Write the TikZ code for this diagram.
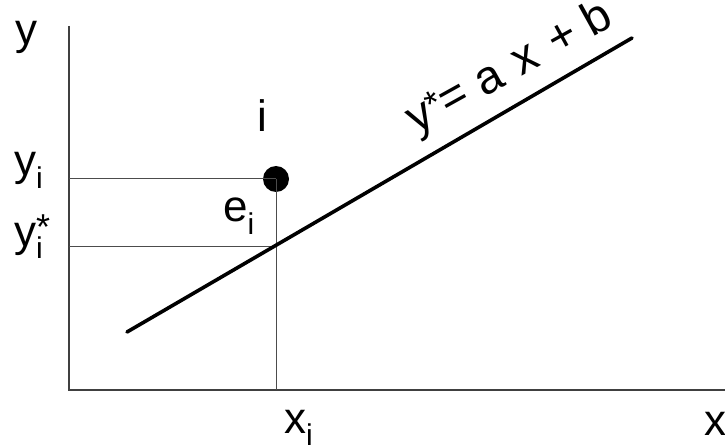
\documentclass[tikz,border=0pt]{standalone}
\usepackage{fontspec}
\setmainfont{Liberation Sans}
\newcommand{\subi}{\raisebox{-12pt}{\fontsize{30}{30}\selectfont i}}
\newcommand{\supstar}{\raisebox{7pt}{\fontsize{36}{36}\selectfont *}}
\tikzset{
  lbl/.style={font=\fontsize{44}{48}\selectfont, inner sep=0pt},
  eqlbl/.style={font=\fontsize{47}{50}\selectfont, inner sep=0pt},
  axis/.style={draw=black!75, line width=1.8pt},
  guide/.style={draw=black!70, line width=1pt},
  fitline/.style={draw=black, line width=3.6pt},
}
\begin{document}
\begin{tikzpicture}[x=1pt,y=1pt]
\useasboundingbox (0,0) rectangle (725,445);
% axes
\coordinate (O) at (69,55);
\coordinate (Ytop) at (69,419);
\coordinate (Xend) at (725,55);
\draw[axis] (Ytop) -- (O) -- (Xend);
% point and projections
\coordinate (Yi) at (69,266);
\coordinate (Ysi) at (69,199);
\coordinate (Xi) at (276,55);
\coordinate (Q) at (276,199);
\node[circle, fill=black, inner sep=0pt, minimum size=26pt] (P) at (276,266) {};
\draw[guide] (Yi) -- (P.center);
\draw[guide] (Ysi) -- (Q);
\draw[guide] (P.center) -- (Xi);
% fitted line
\coordinate (L1) at (127,113);
\coordinate (L2) at (632,407);
\draw[fitline, line cap=round] (L1) -- (L2);
% labels
\node[lbl, anchor=base west] (ylab) at (15,400) {y};
\node[lbl, anchor=base west] (yilab) at (14,269) {y\subi};
\node[lbl, anchor=base west] (ysilab) at (14,199) {y\rlap{\supstar}\subi};
\node[lbl, anchor=base] (ilab) at (262,313) {i};
\node[lbl, anchor=base west] (eilab) at (223,223) {e\subi};
\node[lbl, anchor=base west] (xilab) at (284,12) {x\subi};
\node[lbl, anchor=base west] (xlab) at (704,10) {x};
\node[eqlbl, rotate=29, anchor=base west] (eq) at (416,310) {y\supstar= a\hspace{0.08em} x\hspace{0.08em} + b};
\end{tikzpicture}
\end{document}
